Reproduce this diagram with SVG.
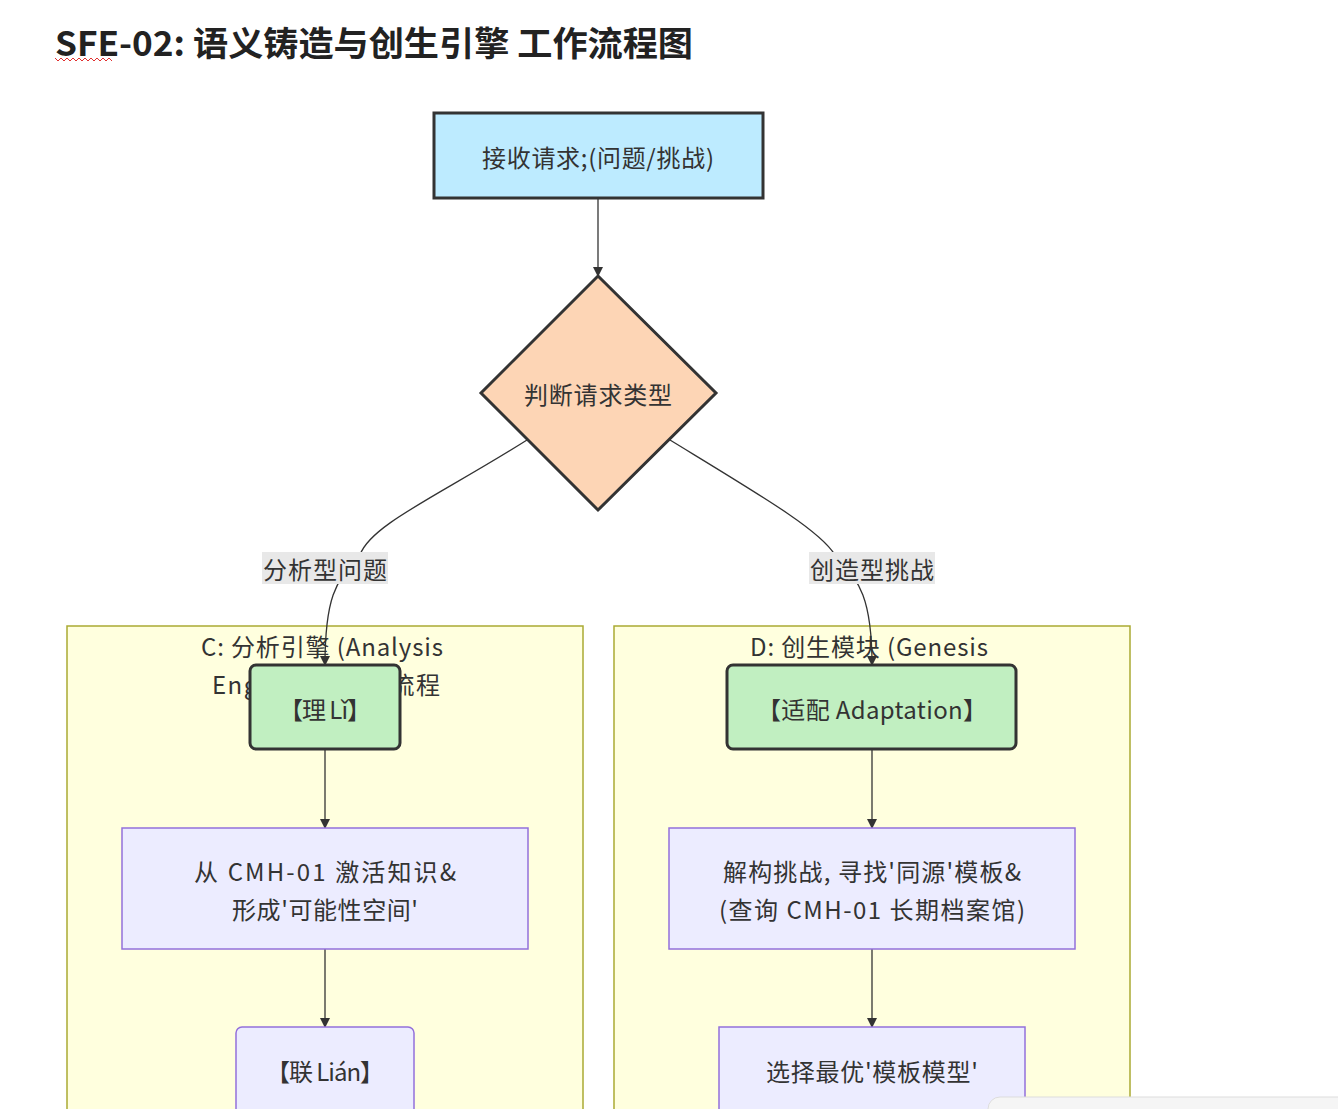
<svg xmlns="http://www.w3.org/2000/svg" width="1338" height="1109" viewBox="0 0 1338 1109">
<style>
text{font-family:"Noto Sans CJK SC","Noto Sans",sans-serif;fill:#333;font-size:24px;text-anchor:middle;dominant-baseline:central}
.cl{fill:#ffffde;stroke:#aaaa33;stroke-width:1.5}
.pu{fill:#ececff;stroke:#9370db;stroke-width:1.5}
.gr{fill:#c1efc1;stroke:#333;stroke-width:3}
.e{fill:none;stroke:#333;stroke-width:1.3;marker-end:url(#ar)}
.lb{fill:#e8e8e8}
</style>
<defs><marker id="ar" viewBox="0 0 10 10" refX="9" refY="5" markerWidth="8" markerHeight="8" orient="auto-start-reverse"><path d="M0,0L10,5L0,10z" fill="#333"/></marker></defs>
<rect width="1338" height="1109" fill="#fff"/>
<text x="55" y="41" textLength="638" lengthAdjust="spacingAndGlyphs" style="text-anchor:start;font-size:34px;font-weight:bold;fill:#222">SFE-02: 语义铸造与创生引擎 工作流程图</text>
<path d="M55,58 l3,3 l3,-3 l3,3 l3,-3 l3,3 l3,-3 l3,3 l3,-3 l3,3 l3,-3 l3,3 l3,-3 l3,3 l3,-3 l3,3 l3,-3 l3,3 l3,-3 l3,3" fill="none" stroke="#e03030" stroke-width="1"/>
<g id="clusterC"><rect class="cl" x="67" y="626" width="516" height="500"/><text x="322" y="645" textLength="242">C: 分析引擎 (Analysis</text><text x="326" y="683" textLength="228">Engine) 子工作流程</text></g>
<g id="clusterD"><rect class="cl" x="614" y="626" width="516" height="500"/><text x="869" y="645" textLength="238">D: 创生模块 (Genesis</text></g>
<g id="edges">
<path class="e" d="M598,198V276"/>
<path class="e" d="M527,440C440,495 370,525 360,555C335,580 325,600 325,665"/>
<path class="e" d="M670,440C760,495 820,530 835,555C860,580 872,600 872,665"/>
<path class="e" d="M325,749V828"/><path class="e" d="M325,949V1027"/>
<path class="e" d="M872,749V828"/><path class="e" d="M872,949V1027"/>
<rect class="lb" x="262" y="552" width="126" height="32"/><text x="325" y="568" textLength="124">分析型问题</text>
<rect class="lb" x="809" y="552" width="126" height="32"/><text x="872" y="568" textLength="124">创造型挑战</text>
</g>
<g id="A"><rect x="434" y="113" width="329" height="85" fill="#bdebff" stroke="#333" stroke-width="3"/><text x="598" y="156" textLength="232">接收请求;(问题/挑战)</text></g>
<g id="B"><path d="M598,276L716,393L598,510L481,393Z" fill="#fdd5b5" stroke="#333" stroke-width="3"/><text x="598" y="393" textLength="148">判断请求类型</text></g>
<g id="C1"><rect class="gr" x="250" y="665" width="150" height="84" rx="6"/><text x="325" y="708" textLength="92">【理 Lǐ】</text></g>
<g id="C2"><rect class="pu" x="122" y="828" width="406" height="121"/><text x="325" y="870" textLength="262">从 CMH-01 激活知识&amp;</text><text x="325" y="908" textLength="186">形成'可能性空间'</text></g>
<g id="C3"><rect class="pu" x="236" y="1027" width="178" height="100" rx="6"/><text x="325" y="1070" textLength="118">【联 Lián】</text></g>
<g id="D1"><rect class="gr" x="727" y="665" width="289" height="84" rx="6"/><text x="872" y="708" textLength="230">【适配 Adaptation】</text></g>
<g id="D2"><rect class="pu" x="669" y="828" width="406" height="121"/><text x="872" y="870" textLength="298">解构挑战, 寻找'同源'模板&amp;</text><text x="872" y="908" textLength="306">(查询 CMH-01 长期档案馆)</text></g>
<g id="D3"><rect class="pu" x="719" y="1027" width="306" height="100"/><text x="872" y="1070" textLength="212">选择最优'模板模型'</text></g>
<rect x="988" y="1097" width="380" height="40" rx="12" fill="#f5f5f5" stroke="#ddd"/>
</svg>
